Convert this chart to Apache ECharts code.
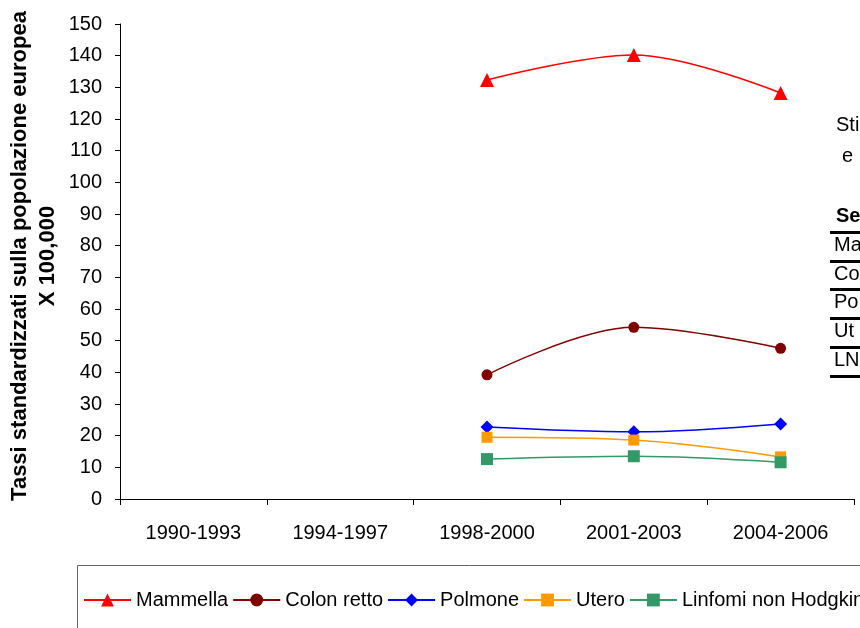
<!DOCTYPE html>
<html>
<head>
<meta charset="utf-8">
<script src="https://cdn.jsdelivr.net/npm/echarts@6/dist/echarts.min.js"></script>
<style>
  html, body { margin: 0; padding: 0; background: #fff; }
  #chart { width: 860px; height: 628px; }
</style>
</head>
<body>
<div id="chart"></div>
<script>
// periodi
const periods = ['1990-1993', '1994-1997', '1998-2000', '2001-2003', '2004-2006']
// tassi per sede (nessun dato prima del 1998)
const mammella = [null, null, 132.3, 140.2, 128.2]
const colonRetto = [null, null, 39.2, 54.2, 47.6]
const polmone = [null, null, 22.7, 21.2, 23.7]
const utero = [null, null, 19.5, 18.6, 13.3]
const linfomi = [null, null, 12.6, 13.5, 11.6]
// tabella a destra (tagliata dal bordo)
const tableRows = ['Ma', 'Co', 'Po', 'Ut', 'LN']

const font = 'Liberation Sans, Arial, sans-serif'

function serie (name, data, color, symbol, size) {
  return {
    name: name,
    type: 'line',
    data: data,
    smooth: 0.35,
    symbol: symbol,
    symbolSize: size,
    lineStyle: { color: color, width: 1.5 },
    itemStyle: { color: color },
    connectNulls: false
  }
}

const graphics = [
  // riquadro legenda
  {
    type: 'rect',
    shape: { x: 77.5, y: 565.5, width: 800, height: 80 },
    style: { fill: 'none', stroke: '#666', lineWidth: 1 },
    z: 0
  },
  // titolo asse y
  {
    type: 'text',
    x: 34,
    y: 256,
    rotation: Math.PI / 2,
    style: {
      text: 'Tassi standardizzati sulla popolazione europea\nX 100,000',
      font: 'bold 22px ' + font,
      fill: '#000',
      align: 'center',
      verticalAlign: 'middle',
      lineHeight: 28
    }
  },
  { type: 'text', left: 836, top: 115, style: { text: 'Sti', font: '20px ' + font, fill: '#000' } },
  { type: 'text', left: 842, top: 146, style: { text: 'e', font: '20px ' + font, fill: '#000' } },
  { type: 'text', left: 836, top: 206, style: { text: 'Se', font: 'bold 20px ' + font, fill: '#000' } }
]
const lineYs = [231, 260, 288, 317, 346, 375]
lineYs.forEach(function (y) {
  graphics.push({ type: 'rect', shape: { x: 830, y: y, width: 40, height: 3 }, style: { fill: '#000' } })
})
tableRows.forEach(function (t, i) {
  graphics.push({ type: 'text', left: 834, top: lineYs[i] + 4, style: { text: t, font: '20px ' + font, fill: '#000' } })
})

const myChart = echarts.init(document.getElementById('chart'))
const option = {
  animation: false,
  backgroundColor: '#fff',
  textStyle: { fontFamily: font },
  grid: { left: 120, right: 6, top: 24, bottom: 129, containLabel: false, outerBoundsMode: 'none' },
  legend: {
    left: 83,
    top: 590,
    padding: 0,
    width: 1200,
    itemWidth: 47,
    itemHeight: 16,
    itemGap: 4,
    textStyle: { fontSize: 20, color: '#000', fontFamily: font },
    data: ['Mammella', 'Colon retto', 'Polmone', 'Utero', 'Linfomi non Hodgkin']
  },
  xAxis: {
    type: 'category',
    data: periods,
    boundaryGap: true,
    axisLine: { lineStyle: { color: '#000', width: 1 } },
    axisTick: { show: true, length: 6, alignWithLabel: false, lineStyle: { color: '#000' } },
    axisLabel: { fontSize: 20, color: '#000', margin: 24, fontFamily: font },
    splitLine: { show: false }
  },
  yAxis: {
    type: 'value',
    min: 0,
    max: 150,
    interval: 10,
    axisLine: { show: true, lineStyle: { color: '#000', width: 1 } },
    axisTick: { show: true, length: 5, lineStyle: { color: '#000' } },
    axisLabel: { fontSize: 20, color: '#000', margin: 18, fontFamily: font },
    splitLine: { show: false }
  },
  graphic: graphics,
  series: [
    serie('Mammella', mammella, '#FF0000', 'triangle', 14),
    serie('Colon retto', colonRetto, '#800000', 'circle', 11),
    serie('Polmone', polmone, '#0000FF', 'diamond', 13),
    serie('Utero', utero, '#FF9900', 'rect', 11),
    serie('Linfomi non Hodgkin', linfomi, '#339966', 'rect', 12)
  ]
}
myChart.setOption(option)
</script>
</body>
</html>
